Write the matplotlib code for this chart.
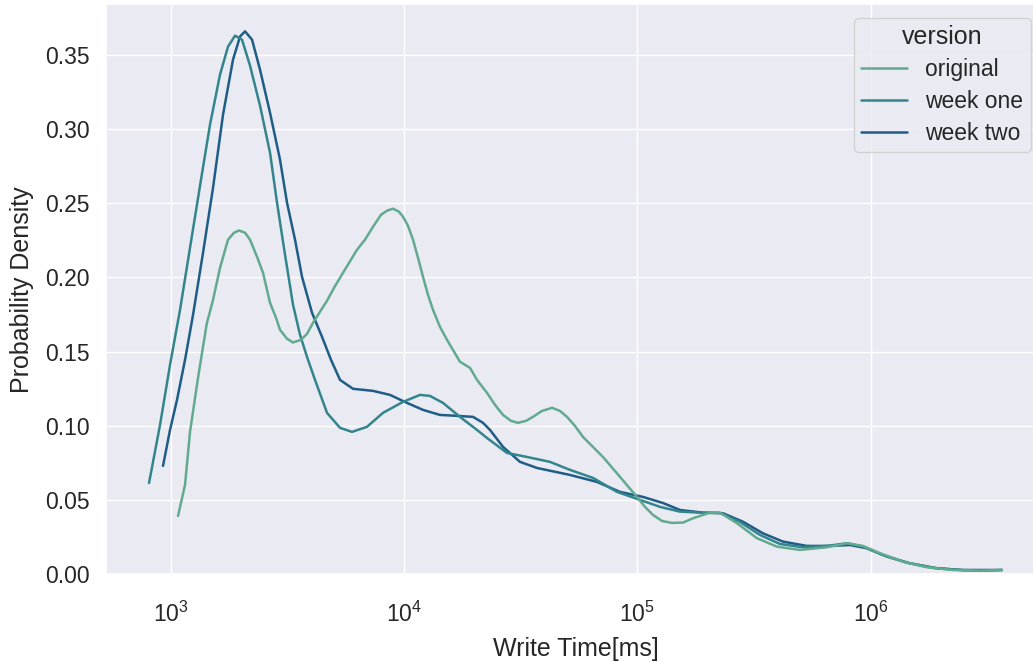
import numpy as np
import matplotlib
matplotlib.use("Agg")
import matplotlib.pyplot as plt
import seaborn as sns

# Density curves (x as log10 of write time in ms)
versions = ["original", "week one", "week two"]

original_logx = [
    3.0317, 3.0617, 3.0831, 3.1174, 3.1547, 3.1817, 3.2117, 3.2459, 3.2716, 3.2931,
    3.3188, 3.3402, 3.3702, 3.3959, 3.4259, 3.4516, 3.4687, 3.4987, 3.5244, 3.5587,
    3.5844, 3.6101, 3.6401, 3.6701, 3.7001, 3.7386, 3.7986, 3.8329, 3.8672, 3.9015,
    3.9272, 3.9529, 3.9786, 3.9957, 4.0171, 4.0386, 4.0600, 4.0814, 4.1028, 4.1242,
    4.1542, 4.1842, 4.2399, 4.2828, 4.3128, 4.3556, 4.3899, 4.4242, 4.4584, 4.4884,
    4.5227, 4.5527, 4.5913, 4.6341, 4.6684, 4.6984, 4.7326, 4.7669, 4.8526, 4.9254,
    4.9983, 5.0326, 5.0668, 5.1054, 5.1482, 5.1954, 5.2382, 5.3111, 5.3539, 5.4267,
    5.5124, 5.5981, 5.6967, 5.8123, 5.8980, 5.9666, 6.0394, 6.1380, 6.2408, 6.3522,
    6.4679, 6.5621,
]
original_density = [
    0.0393, 0.0602, 0.0959, 0.1323, 0.1687, 0.1848, 0.2064, 0.2253, 0.2300, 0.2315,
    0.2300, 0.2253, 0.2138, 0.2030, 0.1828, 0.1727, 0.1646, 0.1586, 0.1561, 0.1579,
    0.1619, 0.1693, 0.1768, 0.1842, 0.1929, 0.2030, 0.2185, 0.2253, 0.2340, 0.2421,
    0.2448, 0.2462, 0.2441, 0.2408, 0.2347, 0.2253, 0.2131, 0.2003, 0.1882, 0.1781,
    0.1666, 0.1579, 0.1431, 0.1390, 0.1309, 0.1222, 0.1141, 0.1073, 0.1033, 0.1020,
    0.1033, 0.1060, 0.1100, 0.1121, 0.1100, 0.1060, 0.0999, 0.0925, 0.0790, 0.0656,
    0.0521, 0.0454, 0.0400, 0.0359, 0.0346, 0.0348, 0.0377, 0.0415, 0.0415, 0.0344,
    0.0243, 0.0186, 0.0164, 0.0182, 0.0209, 0.0191, 0.0142, 0.0085, 0.0047, 0.0029,
    0.0024, 0.0029,
]

week_one_logx = [
    2.9075, 2.9546, 2.9974, 3.0403, 3.0831, 3.1260, 3.1688, 3.2117, 3.2459, 3.2759,
    3.3059, 3.3402, 3.3830, 3.4259, 3.4559, 3.4901, 3.5244, 3.5544, 3.5844, 3.6187,
    3.6701, 3.7258, 3.7772, 3.8415, 3.9100, 3.9957, 4.0686, 4.1114, 4.1671, 4.2399,
    4.3128, 4.3556, 4.4413, 4.5270, 4.6255, 4.7112, 4.8098, 4.9126, 5.0111, 5.0968,
    5.1825, 5.2682, 5.3539, 5.4396, 5.5253, 5.6110, 5.7095, 5.8123, 5.8980, 5.9666,
    6.0523, 6.1551, 6.2665, 6.3822, 6.4679, 6.5621,
]
week_one_density = [
    0.0615, 0.1006, 0.1410, 0.1781, 0.2199, 0.2617, 0.3028, 0.3365, 0.3553, 0.3627,
    0.3600, 0.3425, 0.3156, 0.2839, 0.2502, 0.2152, 0.1815, 0.1613, 0.1464, 0.1309,
    0.1087, 0.0986, 0.0959, 0.0993, 0.1087, 0.1161, 0.1208, 0.1201, 0.1154, 0.1060,
    0.0972, 0.0918, 0.0817, 0.0790, 0.0757, 0.0703, 0.0649, 0.0555, 0.0501, 0.0454,
    0.0422, 0.0415, 0.0413, 0.0352, 0.0265, 0.0204, 0.0182, 0.0191, 0.0209, 0.0186,
    0.0130, 0.0078, 0.0044, 0.0029, 0.0024, 0.0029,
]

week_two_logx = [
    2.9674, 2.9974, 3.0274, 3.0617, 3.0960, 3.1388, 3.1817, 3.2245, 3.2674, 3.2973,
    3.3188, 3.3488, 3.3830, 3.4259, 3.4687, 3.4987, 3.5330, 3.5630, 3.6058, 3.6487,
    3.6872, 3.7258, 3.7815, 3.8672, 3.9400, 4.0129, 4.0814, 4.1542, 4.2271, 4.2956,
    4.3385, 4.3685, 4.4242, 4.4970, 4.5698, 4.7112, 4.8269, 4.9254, 5.0240, 5.1097,
    5.1825, 5.2811, 5.3668, 5.4524, 5.5381, 5.6238, 5.7266, 5.8252, 5.9109, 5.9837,
    6.0694, 6.1680, 6.2836, 6.3950, 6.5621,
]
week_two_density = [
    0.0730, 0.0972, 0.1175, 0.1444, 0.1747, 0.2165, 0.2603, 0.3095, 0.3466, 0.3621,
    0.3656, 0.3600, 0.3398, 0.3108, 0.2792, 0.2502, 0.2253, 0.2003, 0.1761, 0.1599,
    0.1444, 0.1309, 0.1249, 0.1235, 0.1208, 0.1154, 0.1107, 0.1073, 0.1067, 0.1060,
    0.1020, 0.0972, 0.0858, 0.0757, 0.0716, 0.0669, 0.0622, 0.0555, 0.0521, 0.0480,
    0.0433, 0.0415, 0.0411, 0.0354, 0.0276, 0.0220, 0.0191, 0.0191, 0.0197, 0.0175,
    0.0119, 0.0074, 0.0040, 0.0029, 0.0029,
]

sns.set_theme(style="darkgrid")
plt.rcParams["font.family"] = ["Liberation Sans", "DejaVu Sans"]

colors = sns.color_palette("crest", 3)
curves = {
    "original": (original_logx, original_density),
    "week one": (week_one_logx, week_one_density),
    "week two": (week_two_logx, week_two_density),
}

fig = plt.figure(figsize=(10.33, 6.62), dpi=100)
ax = fig.add_axes([0.1030, 0.1325, 0.9082, 0.8609])
ax.set_xscale("log")

# seaborn draws hue levels in reverse order
lines = {}
for name, color in reversed(list(zip(versions, colors))):
    lx, dens = curves[name]
    lines[name], = ax.plot(10 ** np.array(lx), dens, color=color, lw=1.8,
                           label=name, solid_joinstyle="round")

ax.set_ylim(bottom=0)
ax.set_xlabel("Write Time[ms]", fontsize=18, labelpad=7)
ax.set_ylabel("Probability Density", fontsize=18, labelpad=8)
ax.tick_params(axis="y", labelsize=16.5, pad=6)
ax.tick_params(axis="x", labelsize=16.5, pad=14)

leg = ax.legend([lines[v] for v in versions], versions, title="version",
                loc="upper right", fontsize=16.5, title_fontsize=18,
                borderaxespad=0.6, labelspacing=0.38, borderpad=0.32)

fig.savefig("out.png", dpi=100)
